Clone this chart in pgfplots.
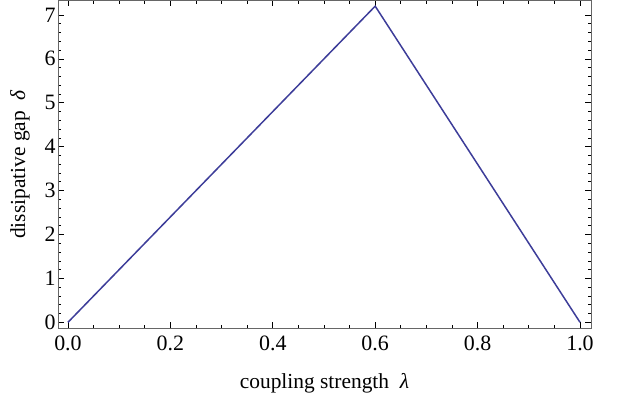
\documentclass[border=0pt]{standalone}
\usepackage{fontspec}
\setmainfont{Liberation Serif}
\usepackage{pgfplots}
\pgfplotsset{compat=1.18}
\definecolor{mmablue}{rgb}{0.24,0.24,0.6}
\begin{document}
\begin{tikzpicture}
\begin{axis}[
  scale only axis, width=533bp, height=328bp,
  xmin=-0.0195, xmax=1.0215, ymin=-0.14, ymax=7.33,
  xtick={0,0.2,...,1.0}, ytick={0,1,...,7},
  minor x tick num=3, minor y tick num=4,
  xticklabel style={yshift=-4bp, /pgf/number format/.cd, fixed, fixed zerofill, precision=1},
  /pgf/number format/assume math mode=true,
  tick align=inside, major tick length=6bp, minor tick length=3.5bp,
  axis line style={gray!80!black, line width=0.9bp},
  every tick/.style={black, line width=0.6bp},
  ticklabel style={font=\fontsize{22}{24}\selectfont},
  label style={font=\fontsize{21.5}{24}\selectfont},
  yticklabel style={xshift=1bp},
  xlabel={coupling strength\ \ \textit{λ}},
  ylabel={dissipative gap\ \ \textit{δ}},
  xlabel style={yshift=-16bp},
  ylabel style={yshift=8bp},
]
\addplot[mmablue, line width=1.5bp] coordinates {(0,0) (0.6,7.2) (1,0)};
\end{axis}
\path ([xshift=-58bp,yshift=-77bp]current axis.south west) rectangle ([xshift=31bp]current axis.north east);
\end{tikzpicture}
\end{document}
